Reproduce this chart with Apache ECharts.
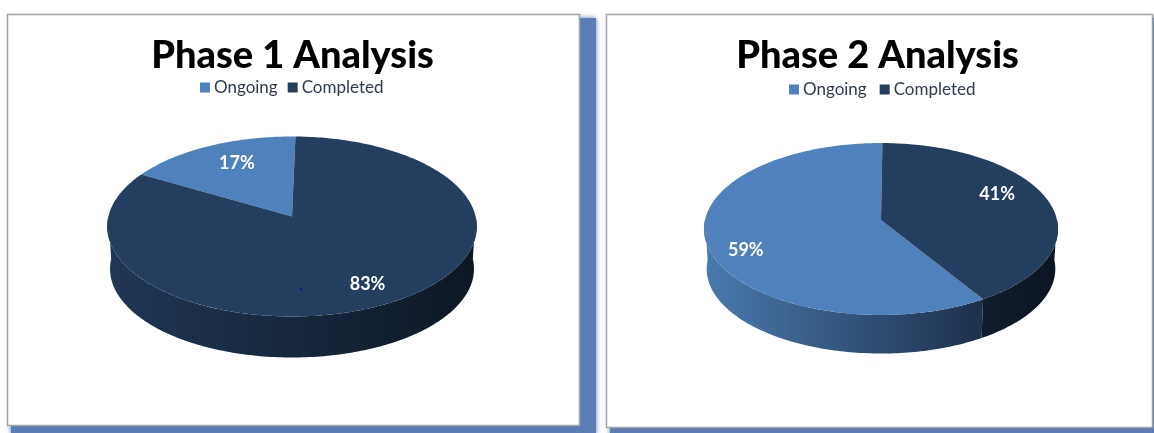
<!DOCTYPE html>
<html>
<head>
<meta charset="utf-8">
<style>html,body{margin:0;padding:0;background:#fff;overflow:hidden}#c{width:1154px;height:433px;filter:blur(0.4px)}</style>
<script src="https://cdn.jsdelivr.net/npm/echarts@6/dist/echarts.min.js"></script>
</head>
<body>
<div id="c"></div>
<script>
const categories = ['Ongoing', 'Completed'];
const phase1Values = [17, 83];
const phase2Values = [59, 41];
const chartTitles = ['Phase 1 Analysis', 'Phase 2 Analysis'];

const BLUE = '#4f81bd', NAVY = '#243e60', FONT = 'Lato, "Open Sans", sans-serif';

// Perspective layout of each disc; angles are clockwise from the far point.
const layouts = [
  { cx: 292, cy: 216.5, a: 183.6, h: 88.9, k: 0.111, depth: 42.5, shrink: 0.985, start: -60,
    titleX: 287.5, titleTop: 32, legendX: 195, legendTop: 74, legendGap: 10,
    wall: { Ongoing: ['#4675a8', '#1f3350'], Completed: ['#203755', '#0d1724'] },
    labelShift: [[0, -6], [13, 14]] },
  { cx: 881, cy: 220, a: 176, h: 85, k: 0.1047, depth: 40, shrink: 0.985, start: 148.1,
    titleX: 872.5, titleTop: 32, legendX: 784, legendTop: 76, legendGap: 13,
    wall: { Ongoing: ['#4a7aaf', '#1d304c'], Completed: ['#101c2d', '#0c1522'] },
    labelShift: [[-23, 15], [8, -11]] }
];

function project(L, deg, r, f, dy) {
  const t = deg * Math.PI / 180, s = Math.sin(t), c = Math.cos(t);
  const den = 1 + L.k * r * c;
  return [L.cx + L.a * f * r * s / den, L.cy + dy - L.h * f * r * c / den];
}
function sample(from, to) {
  const out = [], n = Math.max(2, Math.ceil(Math.abs(to - from)));
  for (let i = 0; i <= n; i++) out.push(from + (to - from) * i / n);
  return out;
}

function sliceSeries(values, index, L) {
  const total = values.reduce((a, b) => a + b, 0);
  const before = values.slice(0, index).reduce((a, b) => a + b, 0);
  const name = categories[index];
  const color = index === 0 ? BLUE : NAVY;
  return {
    type: 'custom',
    name,
    coordinateSystem: 'none',
    silent: true,
    clip: false,
    itemStyle: { color },
    data: [[values[index]]],
    renderItem(params, api) {
      const v = api.value(0);
      const a0 = L.start + before / total * 360;
      const a1 = a0 + v / total * 360;
      const children = [];
      // Wall: the part of the slice on the near side, taken over both turns of the angle range
      [-360, 0, 360].forEach(off => {
        const lo = Math.max(a0 + off, 90), hi = Math.min(a1 + off, 270);
        if (hi <= lo) return;
        const angles = sample(lo, hi);
        const pts = angles.map(d => project(L, d, 1, 1, 0))
          .concat(angles.slice().reverse().map(d => project(L, d, 1, L.shrink, L.depth)));
        const stops = L.wall[name];
        const wallFrom = Math.min(...pts.map(p => p[0]));
        const wallTo = Math.max(...pts.map(p => p[0]));
        children.push({
          type: 'polygon', z2: 1,
          shape: { points: pts },
          style: { fill: { type: 'linear', x: wallFrom, y: 0, x2: wallTo, y2: 0, global: true,
            colorStops: [{ offset: 0, color: stops[0] }, { offset: 1, color: stops[1] }] } }
        });
      });
      // Top face
      const top = [project(L, 0, 0, 1, 0)].concat(sample(a0, a1).map(d => project(L, d, 1, 1, 0)));
      children.push({ type: 'polygon', z2: 2, shape: { points: top }, style: { fill: color } });
      // Value label
      const mid = project(L, (a0 + a1) / 2, 0.65, 1, 0);
      const sh = L.labelShift[index];
      children.push({
        type: 'text', z2: 3,
        style: { x: mid[0] + sh[0], y: mid[1] + sh[1], text: v + '%', fill: '#fff',
          font: 'bold 18px ' + FONT, textAlign: 'center', textVerticalAlign: 'middle' }
      });
      return { type: 'group', children };
    }
  };
}

const SHADOW = '#5b7db3';
function panel(x, y, w, h) {
  return [
    { type: 'rect', z: -3, shape: { x: x + 4, y: y + 4, width: w + 13, height: h + 5 },
      style: { fill: SHADOW, shadowBlur: 5, shadowColor: SHADOW } },
    { type: 'rect', z: -2, shape: { x: x + .5, y: y + .5, width: w, height: h },
      style: { fill: '#fff', stroke: '#a3a3a3', lineWidth: 1.5 } }
  ];
}

const chart = echarts.init(document.getElementById('c'), null, { renderer: 'canvas' });
chart.setOption({
  animation: false,
  backgroundColor: '#fff',
  tooltip: { show: false },
  graphic: [
    ...panel(7, 14, 572, 411),
    ...panel(606, 14, 546, 413),
    { type: 'circle', z: 5, shape: { cx: 301, cy: 289, r: 1 }, style: { fill: '#0b0bb0' } }
  ],
  title: layouts.map((L, i) => ({
    text: chartTitles[i], left: L.titleX, top: L.titleTop, textAlign: 'center',
    textStyle: { fontFamily: FONT, fontWeight: 900, fontSize: 38, color: '#000' }
  })),
  legend: layouts.map(L => ({
    data: categories, left: L.legendX, top: L.legendTop, icon: 'rect', orient: 'horizontal',
    itemWidth: 10, itemHeight: 10, itemGap: L.legendGap, selectedMode: false,
    textStyle: { fontFamily: FONT, fontSize: 17, color: '#2f3b4d', padding: [0, 0, 0, -1] }
  })),
  series: [
    sliceSeries(phase1Values, 0, layouts[0]),
    sliceSeries(phase1Values, 1, layouts[0]),
    sliceSeries(phase2Values, 0, layouts[1]),
    sliceSeries(phase2Values, 1, layouts[1])
  ]
});
</script>
</body>
</html>
